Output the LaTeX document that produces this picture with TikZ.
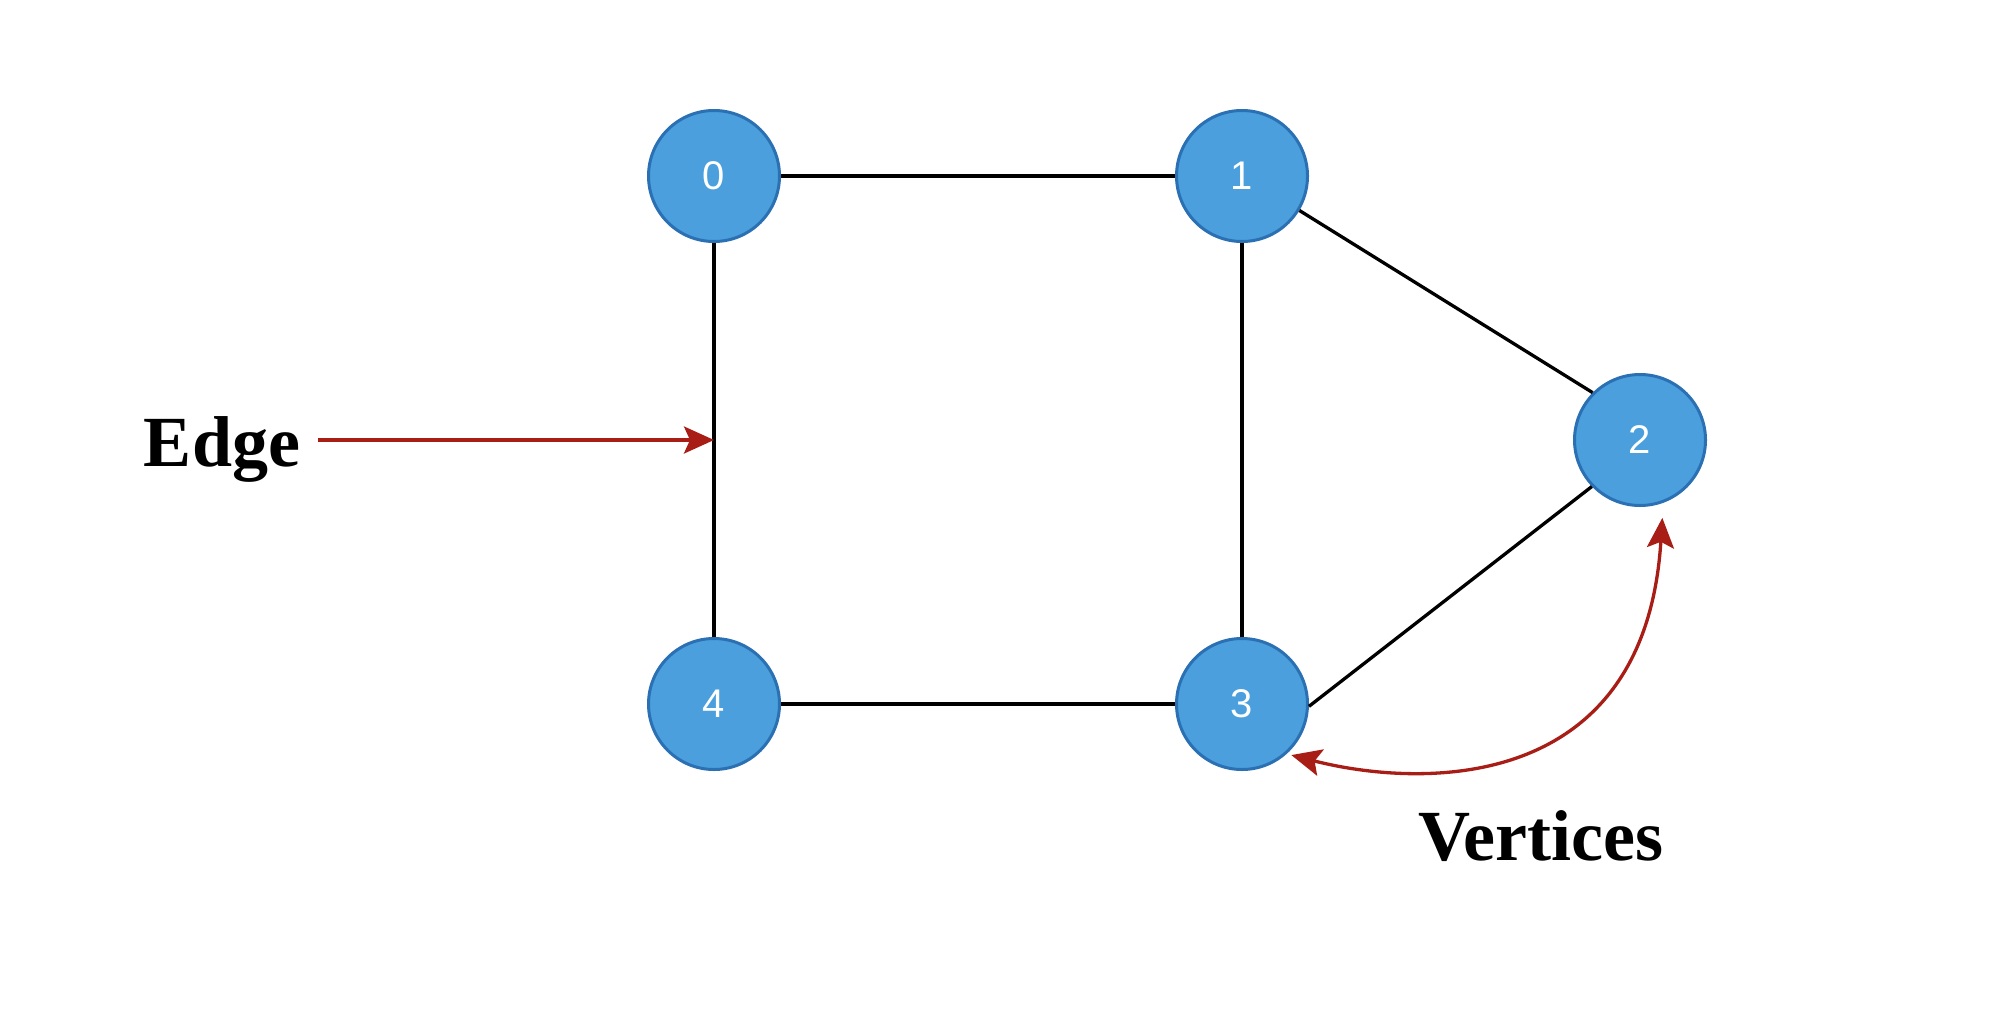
\documentclass[tikz,border=0pt]{standalone}
\usepackage{fontspec}
\setmainfont{Liberation Serif}
\newfontfamily\numfont{Liberation Sans}
\usetikzlibrary{arrows.meta,calc}
\definecolor{vfill}{RGB}{74,159,220}
\definecolor{vline}{RGB}{42,112,178}
\definecolor{pointer}{RGB}{168,30,22}
\begin{document}
\begin{tikzpicture}[x=1pt,y=1pt,
  vertex/.style={circle,fill=vfill,draw=vline,line width=3pt,minimum size=131pt,inner sep=0pt,
    text=white,font=\numfont\fontsize{40}{44}\selectfont},
  link/.style={draw=black,line width=3.3pt},
  tip/.tip={Stealth[length=30pt,width=27pt,inset=6pt]},
  pointer/.style={draw=pointer,line width=3.3pt,-tip},
  caption/.style={font=\bfseries\fontsize{72}{80}\selectfont,anchor=base,inner sep=0pt}]
\useasboundingbox (0,0) rectangle (2004,-1028);

% vertices
\node[vertex] (n0) at (714,-176) {0};
\node[vertex] (n1) at (1242,-176) {1};
\node[vertex] (n2) at (1640,-440) {2};
\node[vertex] (n3) at (1242,-704) {3};
\node[vertex] (n4) at (714,-704) {4};

% edges
\draw[link] (n0) -- (n1);
\draw[link] (n1.-31) -- (n2.135);
\draw[link] (n1) -- (n3);
\draw[link] (n2.224) -- (n3.-2);
\draw[link] (n3) -- (n4);
\draw[link] (n4) -- (n0);

% captions
\node[caption] (edgelbl) at (222,-466) {Edge};
\node[caption] (vertlbl) at (1541,-860) {Vertices};

% pointer to an edge
\coordinate (estart) at (318,-440);
\coordinate (emid) at ($(n0)!0.5!(n4)$);
\draw[pointer] (estart) -- (emid);

% pointer to two vertices
\draw[pointer,tip-tip]
  ([shift={(-46:4)}]n3.-46) .. controls (1420,-788) and (1645,-795) .. ([shift={(-74:14)}]n2.-74);
\end{tikzpicture}
\end{document}
